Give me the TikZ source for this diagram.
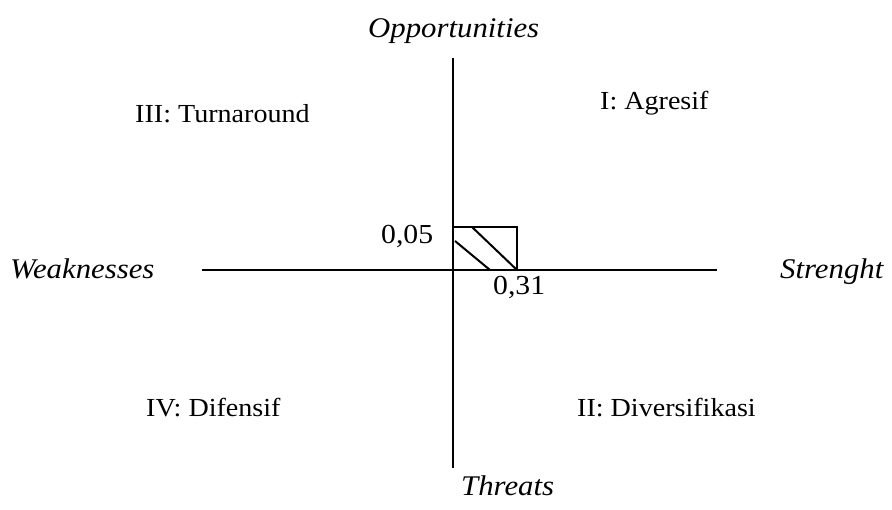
\documentclass[tikz,border=0pt]{standalone}
\usepackage{fontspec}
\setmainfont[FakeStretch=1.08]{Liberation Serif}
\begin{document}
\begin{tikzpicture}[x=1pt,y=-1pt,
  axis/.style={line width=2pt},
  boxline/.style={line width=2pt},
  axlabel/.style={font=\fontsize{28.5}{31}\selectfont\itshape, inner sep=0pt, anchor=base west},
  qlabel/.style={font=\fontsize{26}{29}\selectfont, inner sep=0pt, anchor=base west},
  numlabel/.style={font=\fontsize{27.5}{30}\selectfont, inner sep=0pt, anchor=base west}]
\useasboundingbox (0,0) rectangle (892,510);
% axes
\coordinate (vtop) at (453,58);
\coordinate (vbot) at (453,468);
\coordinate (hleft) at (202,270);
\coordinate (hright) at (717,270);
\draw[axis] (vtop) -- (vbot);
\draw[axis] (hleft) -- (hright);
% box
\coordinate (b1) at (453,227);
\coordinate (b2) at (517,270);
\draw[boxline] (b1) rectangle (b2);
\coordinate (h1a) at (455,241);
\coordinate (h1b) at (490,270);
\coordinate (h2a) at (472,227);
\draw[boxline] (h1a) -- (h1b);
\draw[boxline] (h2a) -- (b2);
\coordinate (ext) at (558,270);
\draw[line width=2.6pt] (b2) -- (ext);
% labels
\node[axlabel] (opp) at (368,38) {Opportunities};
\node[axlabel] (weak) at (10,279) {Weaknesses};
\node[axlabel] (str) at (780,279) {Strenght};
\node[axlabel] (thr) at (461,496) {Threats};
\node[qlabel] (q3) at (135,123) {III: Turnaround};
\node[qlabel] (q1) at (600,110) {I: Agresif};
\node[qlabel] (q4) at (146,417) {IV: Difensif};
\node[qlabel] (q2) at (577,417) {II: Diversifikasi};
\node[numlabel] (n05) at (381,244) {0,05};
\node[numlabel] (n31) at (493,295) {0,31};
\end{tikzpicture}
\end{document}
